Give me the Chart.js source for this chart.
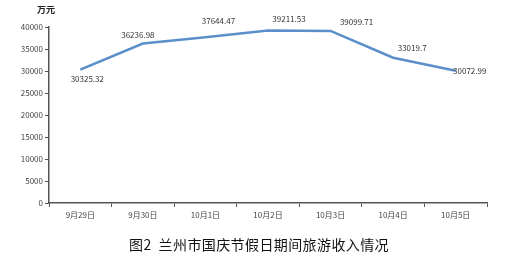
<!DOCTYPE html>
<html>
<head>
<meta charset="utf-8">
<script src="https://cdn.jsdelivr.net/npm/chart.js@4"></script>
<style>
  html, body { margin: 0; padding: 0; background: #fff; }
  #wrap { width: 520px; height: 256px; position: relative; }
</style>
</head>
<body>
<div id="wrap"><canvas id="c" width="520" height="256"></canvas></div>
<script>
// 兰州市国庆节假日期间旅游收入（万元）
const days = ['9月29日', '9月30日', '10月1日', '10月2日', '10月3日', '10月4日', '10月5日'];
const income = [30325.32, 36236.98, 37644.47, 39211.53, 39099.71, 33019.7, 30072.99];
const incomeLabels = ['30325.32', '36236.98', '37644.47', '39211.53', '39099.71', '33019.7', '30072.99'];
const yTicks = [0, 5000, 10000, 15000, 20000, 25000, 30000, 35000, 40000];

const FONT = '"Noto Sans CJK SC", "Noto Sans", sans-serif';

// value label placement relative to each point (dx, dy in px)
const labelOffsets = [[7, 9], [-5, -9], [13, -16], [21, -12], [26, -9], [19, -10], [14, 0]];

const labelPlugin = {
  id: 'valueLabels',
  afterDatasetsDraw(chart) {
    const { ctx } = chart;
    const meta = chart.getDatasetMeta(0);
    ctx.save();
    ctx.font = '8px ' + FONT;
    ctx.fillStyle = '#333';
    ctx.textAlign = 'center';
    ctx.textBaseline = 'middle';
    meta.data.forEach((pt, i) => {
      const [dx, dy] = labelOffsets[i];
      ctx.fillText(incomeLabels[i], pt.x + dx, pt.y + dy);
    });
    ctx.restore();
  }
};

const textPlugin = {
  id: 'captions',
  afterDraw(chart) {
    const { ctx } = chart;
    ctx.save();
    ctx.fillStyle = '#222';
    ctx.textBaseline = 'middle';
    ctx.textAlign = 'center';
    ctx.font = 'bold 9px ' + FONT;
    ctx.fillText('万元', 46, 10);
    ctx.font = '14px ' + FONT;
    ctx.fillStyle = '#111';
    if ('letterSpacing' in ctx) ctx.letterSpacing = '0.4px';
    ctx.fillText('图2  兰州市国庆节假日期间旅游收入情况', 259, 245);
    ctx.restore();
  }
};

new Chart(document.getElementById('c'), {
  type: 'line',
  data: {
    labels: days,
    datasets: [{
      data: income,
      borderColor: '#5b8fc9',
      borderWidth: 2.5,
      pointRadius: 0,
      tension: 0,
      fill: false
    }]
  },
  options: {
    responsive: false,
    animation: false,
    layout: { padding: { top: 27, right: 33, left: 0, bottom: 0 } },
    plugins: { legend: { display: false }, tooltip: { enabled: false }, title: { display: false } },
    scales: {
      x: {
        offset: true,
        grid: { offset: true, drawOnChartArea: false, drawTicks: true, tickLength: 4, tickColor: '#555' },
        border: { display: true, color: '#555', width: 1.5 },
        ticks: { font: { family: FONT, size: 8 }, color: '#444', padding: 3, maxRotation: 0 },
        afterFit(s) { s.height = 53; }
      },
      y: {
        min: 0,
        max: 40000,
        afterBuildTicks(s) { s.ticks = yTicks.map(v => ({ value: v })); },
        grid: { drawOnChartArea: false, drawTicks: true, tickLength: 4, tickColor: '#555' },
        border: { display: true, color: '#555', width: 1.5 },
        ticks: { font: { family: FONT, size: 8 }, color: '#444', padding: 2, callback: v => String(v) },
        afterFit(s) { s.width = 49; }
      }
    }
  },
  plugins: [labelPlugin, textPlugin]
});
</script>
</body>
</html>
